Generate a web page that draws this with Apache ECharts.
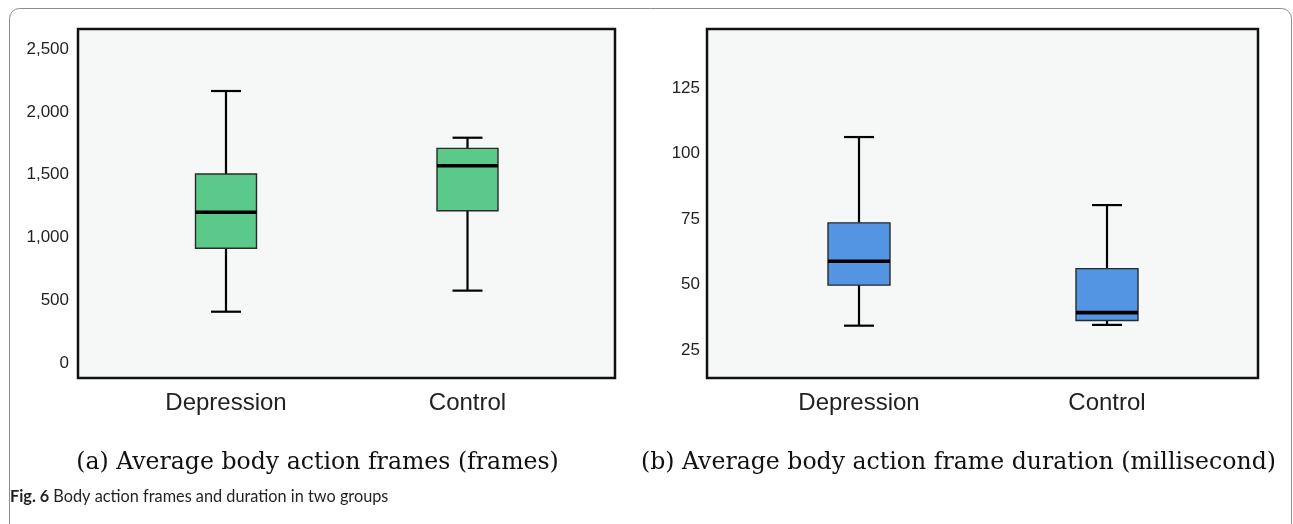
<!DOCTYPE html>
<html><head><meta charset="utf-8">
<script src="https://cdn.jsdelivr.net/npm/echarts@6/dist/echarts.min.js"></script>
<style>html,body{margin:0;padding:0;background:#fff}#c{width:1293px;height:524px}</style>
</head><body><div id="c"></div>
<script>
const categories = ['Depression', 'Control'];
// each: [min, Q1, median, Q3, max]
const framesDepression = [408, 913, 1200, 1505, 2166];
const framesControl = [576, 1212, 1571, 1709, 1794];
const durationDepression = [34.3, 49.8, 58.9, 73.6, 106.4];
const durationControl = [34.6, 36.3, 39.3, 56.1, 80.4];
const framesTicks = [0, 500, 1000, 1500, 2000, 2500];
const durationTicks = [25, 50, 75, 100, 125];
const captionA = '(a) Average body action frames (frames)';
const captionB = '(b) Average body action frame duration (millisecond)';
const figLabel = 'Fig. 6';
const figCaption = 'Body action frames and duration in two groups';

const chart = echarts.init(document.getElementById('c'), null, {renderer: 'canvas'});

function makeRender(fill, boxW) {
  return function (params, api) {
    const xi = api.value(0);
    const p = [1, 2, 3, 4, 5].map(i => api.coord([xi, api.value(i)]));
    const cx = p[0][0];
    const hw = boxW / 2, capHalf = 15;
    const lineStyle = {stroke: '#000', lineWidth: 2.2};
    return {
      type: 'group',
      children: [
        {type: 'line', shape: {x1: cx, y1: p[3][1], x2: cx, y2: p[4][1]}, style: lineStyle},
        {type: 'line', shape: {x1: cx, y1: p[1][1], x2: cx, y2: p[0][1]}, style: lineStyle},
        {type: 'line', shape: {x1: cx - capHalf, y1: p[4][1], x2: cx + capHalf, y2: p[4][1]}, style: lineStyle},
        {type: 'line', shape: {x1: cx - capHalf, y1: p[0][1], x2: cx + capHalf, y2: p[0][1]}, style: lineStyle},
        {type: 'rect', shape: {x: cx - hw, y: p[3][1], width: boxW, height: p[1][1] - p[3][1]},
          style: {fill: fill, stroke: '#2a2a2a', lineWidth: 1.4}},
        {type: 'line', shape: {x1: cx - hw, y1: p[2][1], x2: cx + hw, y2: p[2][1]},
          style: {stroke: '#000', lineWidth: 3.6}}
      ]
    };
  };
}

const labelFont = {fontFamily: 'Liberation Sans', color: '#222'};

const option = {
  animation: false,
  backgroundColor: '#ffffff',
  grid: [
    {left: 78, top: 29, width: 537, height: 349, show: true, backgroundColor: '#f6f7f7', borderColor: '#111', borderWidth: 2.5},
    {left: 105.25, top: 29, width: 483, height: 349},
    {left: 707, top: 29, width: 551, height: 349, show: true, backgroundColor: '#f6f7f7', borderColor: '#111', borderWidth: 2.5},
    {left: 735, top: 29, width: 496, height: 349}
  ],
  xAxis: [
    {gridIndex: 0, type: 'category', data: [''], show: false},
    {gridIndex: 1, type: 'category', data: categories, axisLine: {show: false}, axisTick: {show: false},
      axisLabel: Object.assign({fontSize: 24, margin: 13}, labelFont)},
    {gridIndex: 2, type: 'category', data: [''], show: false},
    {gridIndex: 3, type: 'category', data: categories, axisLine: {show: false}, axisTick: {show: false},
      axisLabel: Object.assign({fontSize: 24, margin: 13}, labelFont)}
  ],
  yAxis: [
    {gridIndex: 0, type: 'value', min: -120, max: 2660, axisLine: {show: false}, axisTick: {show: false}, splitLine: {show: false},
      axisLabel: Object.assign({fontSize: 17, margin: 9, customValues: framesTicks,
        formatter: v => Number(v).toLocaleString('en-US')}, labelFont)},
    {gridIndex: 1, type: 'value', min: -120, max: 2660, show: false, splitLine: {show: false}},
    {gridIndex: 2, type: 'value', min: 14.3, max: 147.7, axisLine: {show: false}, axisTick: {show: false}, splitLine: {show: false},
      axisLabel: Object.assign({fontSize: 17, margin: 7, customValues: durationTicks}, labelFont)},
    {gridIndex: 3, type: 'value', min: 14.3, max: 147.7, show: false, splitLine: {show: false}}
  ],
  series: [
    {type: 'custom', xAxisIndex: 1, yAxisIndex: 1, renderItem: makeRender('#5ac98a', 61),
      encode: {x: 0, y: [1, 2, 3, 4, 5]},
      data: [[0].concat(framesDepression), [1].concat(framesControl)]},
    {type: 'custom', xAxisIndex: 3, yAxisIndex: 3, renderItem: makeRender('#5495e3', 62),
      encode: {x: 0, y: [1, 2, 3, 4, 5]},
      data: [[0].concat(durationDepression), [1].concat(durationControl)]}
  ],
  graphic: [
    {type: 'rect', silent: true, shape: {x: 9.5, y: 8.5, width: 1282, height: 600, r: 10},
      style: {fill: 'none', stroke: '#8c8c8c', lineWidth: 1}},
    {type: 'text', x: 317.5, y: 463, style: {text: captionA, fontFamily: 'DejaVu Serif', fontSize: 23.6, fill: '#111',
      align: 'center', verticalAlign: 'middle'}},
    {type: 'text', x: 958.5, y: 463, style: {text: captionB, fontFamily: 'DejaVu Serif', fontSize: 23.6, fill: '#111',
      align: 'center', verticalAlign: 'middle'}},
    {type: 'text', x: 10, y: 497, style: {text: '{b|' + figLabel + '} ' + figCaption, fontFamily: 'Lato', fontSize: 16.3, fill: '#231f20',
      align: 'left', verticalAlign: 'middle',
      rich: {b: {fontFamily: 'Lato', fontWeight: 'bold', fontSize: 16.3, fill: '#231f20'}}}}
  ]
};
chart.setOption(option);
</script>
</body></html>
